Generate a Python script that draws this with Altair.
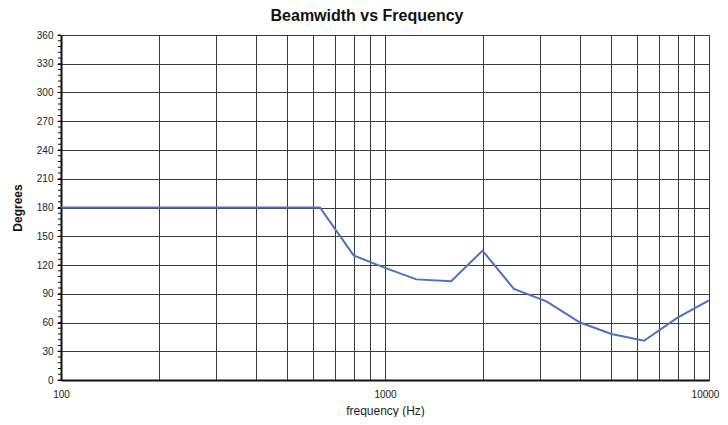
import altair as alt
import pandas as pd

freqs = [100, 125, 160, 200, 250, 315, 400, 500, 630, 800, 1000, 1250,
         1600, 2000, 2500, 3150, 4000, 5000, 6300, 8000, 10000]
beam = [180, 180, 180, 180, 180, 180, 180, 180, 180, 130, 117, 105,
        103, 135, 95, 82, 60, 48, 41, 65, 83]

grid_x = [100, 200, 300, 400, 500, 600, 700, 800, 900, 1000,
          2000, 3000, 4000, 5000, 6000, 7000, 8000, 9000, 10000]
y_ticks = [0, 30, 60, 90, 120, 150, 180, 210, 240, 270, 300, 330, 360]
y_minor = list(range(0, 361, 6))
x_labels = [100, 1000, 10000]

df = pd.DataFrame({"freq": freqs, "beam": beam})
minor_df = pd.DataFrame({"v": y_minor})

xscale = alt.Scale(type="log", domain=[100, 10000], nice=False)
yscale = alt.Scale(domain=[0, 360], nice=False)

label_test = " || ".join(f"datum.value == {v}" for v in x_labels)

line = alt.Chart(df).mark_line(color="#4a72c0", strokeWidth=2).encode(
    x=alt.X("freq:Q", scale=xscale,
            axis=alt.Axis(values=grid_x, title="frequency (Hz)",
                          labelExpr=f"({label_test}) ? datum.label : ''",
                          format="d", ticks=False, labelPadding=9,
                          labelFlush=False, labelOverlap=False,
                          labelOffset={"condition": {"test": f"datum.value == {x_labels[-1]}", "value": -4}, "value": 0},
                          labelFontSize=10, labelColor="#222",
                          titleFontSize=12, titleFontWeight="normal",
                          titleColor="#222", titlePadding=6,
                          grid=True, gridColor="#3a3a3a", gridWidth=1,
                          domainColor="#111", domainWidth=2,
                          labelFont="Liberation Sans", titleFont="Liberation Sans")),
    y=alt.Y("beam:Q", scale=yscale,
            axis=alt.Axis(values=y_ticks, title="Degrees",
                          tickSize=4, tickColor="#111", labelPadding=4,
                          labelFlush=False, labelOverlap=False,
                          labelFontSize=10, labelColor="#222",
                          titleFontSize=12, titleFontWeight="bold",
                          titleColor="#111", titlePadding=12,
                          grid=True, gridColor="#3a3a3a", gridWidth=1,
                          domainColor="#111", domainWidth=2,
                          labelFont="Liberation Sans", titleFont="Liberation Sans")),
)

minor = alt.Chart(minor_df).mark_rule(color="#111", strokeWidth=1,
                                      xOffset=-3, x2Offset=0).encode(
    y=alt.Y("v:Q", scale=yscale, axis=None),
    x=alt.datum(100, scale=xscale, axis=None),
    x2=alt.datum(100),
)

chart = alt.layer(line, minor).resolve_axis(
    x="independent", y="independent"
).properties(
    width=648, height=345,
    padding={"left": 53, "top": 27, "right": 11, "bottom": 37},
    autosize="none",
    background="white",
    title=alt.Title("Beamwidth vs Frequency", fontSize=16, fontWeight="bold",
                    font="Liberation Sans", color="#111", offset=6, dx=-18),
).configure_view(stroke="#444", strokeWidth=1)

chart.save("out.html", embed_options={"renderer": "svg", "actions": False})
